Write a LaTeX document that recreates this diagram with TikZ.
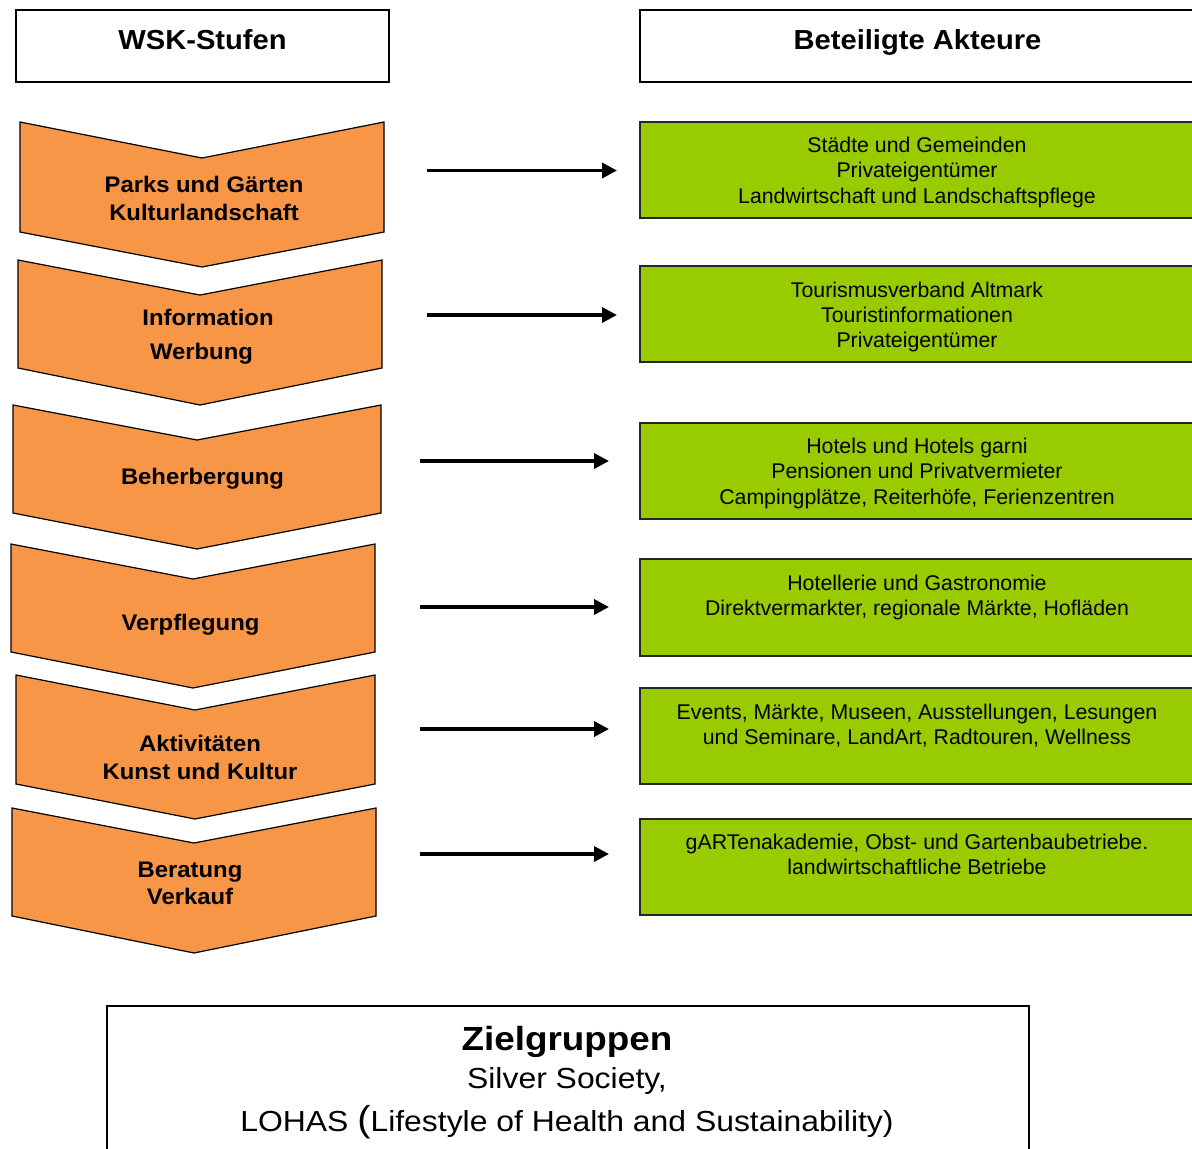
\documentclass[tikz,border=0pt]{standalone}
\usepackage{fontspec}
\setmainfont{Liberation Sans}
\newfontfamily\chevfont[FakeStretch=1.06]{Liberation Sans}
\newfontfamily\botfont[FakeStretch=1.1]{Liberation Sans}
\usetikzlibrary{arrows.meta}
\definecolor{chevorange}{HTML}{F79646}
\definecolor{actgreen}{HTML}{99CC00}
\begin{document}
\begin{tikzpicture}[x=1pt,y=-1pt,
  chevron/.style={fill=chevorange,draw=black,line width=1.2pt,line join=miter},
  chevtext/.style={anchor=north,inner sep=0pt,align=center,font=\chevfont\bfseries\fontsize{22.5}{28}\selectfont},
  header/.style={draw=black,line width=1.5pt,fill=white},
  headtext/.style={anchor=base,inner sep=0pt,font=\chevfont\bfseries\fontsize{27.5}{33}\selectfont},
  actorbox/.style={draw=black!85,fill=actgreen,line width=2pt},
  actortext/.style={anchor=north,inner sep=0pt,align=center,font=\fontsize{21.3}{25.2}\selectfont},
  flow/.style={line width=3.5pt,-{Triangle[length=15pt,width=15pt]}},
  bottext/.style={anchor=base,inner sep=0pt}
]
\useasboundingbox (0,0) rectangle (1192,1149);
\clip (0,0) rectangle (1192,1149);

% headers
\draw[header] (16,10) rectangle (389,82);
\draw[header] (640,10) rectangle (1196,82);
\node[headtext] (hwsk) at (202.5,49.3) {WSK-Stufen};
\node[headtext] (hakt) at (917.5,49.3) {Beteiligte Akteure};

% chevrons
\draw[chevron] (20,122) -- (202,158) -- (384,122) -- (384,232) -- (202,267) -- (20,232) -- cycle;
\draw[chevron] (18,260) -- (200,295) -- (382,260) -- (382,368) -- (200,405) -- (18,368) -- cycle;
\draw[chevron] (13,405) -- (197,440) -- (381,405) -- (381,513) -- (197,549) -- (13,513) -- cycle;
\draw[chevron] (11,544) -- (193,579) -- (375,544) -- (375,652) -- (193,688) -- (11,652) -- cycle;
\draw[chevron] (16,675) -- (195,710) -- (375,675) -- (375,784) -- (195,819) -- (16,784) -- cycle;
\draw[chevron] (12,808) -- (194,843) -- (376,808) -- (376,916) -- (194,953) -- (12,916) -- cycle;

\node[chevtext] (c1) at (204,175.7) {Parks und Gärten\\Kulturlandschaft};
\node[chevtext] (c2) at (208,308.7) {Information\\[6pt]Werbung\kern13pt};
\node[chevtext] (c3) at (202.5,467.7) {Beherbergung};
\node[chevtext] (c4) at (190.5,613.7) {Verpflegung};
\node[chevtext] (c5) at (200,734.7) {Aktivitäten\\Kunst und Kultur};
\node[chevtext] (c6) at (190,862) {Beratung\\[-1.5pt]Verkauf};

% actor boxes
\draw[actorbox] (640,122) rectangle (1197,218);
\draw[actorbox] (640,266) rectangle (1197,362);
\draw[actorbox] (640,423) rectangle (1197,519);
\draw[actorbox] (640,559) rectangle (1197,656);
\draw[actorbox] (640,688) rectangle (1197,784);
\draw[actorbox] (640,819) rectangle (1197,915);

\node[actortext] (t1) at (917,137) {Städte und Gemeinden\\Privateigentümer\\Landwirtschaft und Landschaftspflege};
\node[actortext] (t2) at (917,281.6) {Tourismusverband Altmark\\Touristinformationen\\Privateigentümer};
\node[actortext] (t3) at (917,438.1) {Hotels und Hotels garni\\Pensionen und Privatvermieter\\Campingplätze, Reiterhöfe, Ferienzentren};
\node[actortext] (t4) at (917,575.1) {Hotellerie und Gastronomie\\Direktvermarkter, regionale Märkte, Hofläden};
\node[actortext] (t5) at (917,703.9) {Events, Märkte, Museen, Ausstellungen, Lesungen\\und Seminare, LandArt, Radtouren, Wellness};
\node[actortext] (t6) at (917,833.6) {gARTenakademie, Obst- und Gartenbaubetriebe.\\landwirtschaftliche Betriebe};

% arrows
\coordinate (a1s) at (427,170.5); \coordinate (a1e) at (617,170.5);
\coordinate (a2s) at (427,315);   \coordinate (a2e) at (617,315);
\coordinate (a3s) at (420,461);   \coordinate (a3e) at (609,461);
\coordinate (a4s) at (420,607);   \coordinate (a4e) at (609,607);
\coordinate (a5s) at (420,729);   \coordinate (a5e) at (609,729);
\coordinate (a6s) at (420,854);   \coordinate (a6e) at (609,854);
\draw[flow] (a1s) -- (a1e);
\draw[flow] (a2s) -- (a2e);
\draw[flow] (a3s) -- (a3e);
\draw[flow] (a4s) -- (a4e);
\draw[flow] (a5s) -- (a5e);
\draw[flow] (a6s) -- (a6e);

% target group box
\draw[line width=1.5pt] (107,1006) rectangle (1029,1165);
\node[bottext,font=\botfont\bfseries\fontsize{33.5}{40}\selectfont] (zg1) at (567,1050.5) {Zielgruppen};
\node[bottext,font=\botfont\fontsize{29}{35}\selectfont] (zg2) at (567,1088) {Silver Society,};
\node[bottext,font=\botfont\fontsize{29}{35}\selectfont] (zg3) at (567,1131) {LOHAS {\fontsize{36}{40}\selectfont(}Lifestyle of Health and Sustainability)};
\end{tikzpicture}
\end{document}
